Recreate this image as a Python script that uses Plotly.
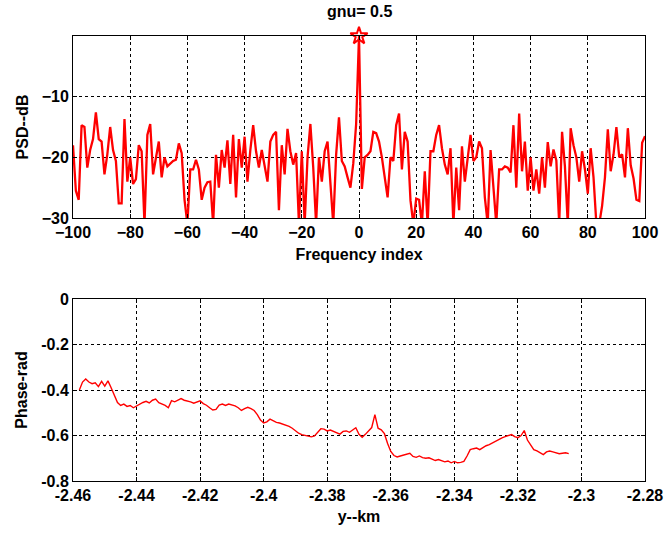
import numpy as np
import plotly.graph_objects as go
from plotly.subplots import make_subplots

# ---- Top panel: PSD (dB) vs frequency index ----
freq_index = list(range(-100, 101))
psd_db = [
    -18, -25.5, -27, -14.7, -15, -21.7, -18.8, -17, -12.6, -17,
    -17.4, -22.8, -19.5, -15, -18.8, -20.6, -27.6, -27.6, -13.7, -24,
    -20, -24.4, -23.6, -18, -19, -31, -16.3, -14.5, -22.8, -20,
    -17.4, -23.3, -20, -21.5, -21, -20.6, -20.4, -17.7, -19.3, -27,
    -31, -22, -22, -20.4, -22, -27, -25, -24.1, -24, -31,
    -19.6, -25, -18.8, -21.7, -17.2, -24.4, -16.3, -26.6, -17, -21.7,
    -16.6, -24, -18.8, -14.7, -19, -21.7, -18.8, -21.7, -24, -17.4,
    -16.3, -15.8, -28.7, -18, -22.8, -15.3, -19, -21.2, -19.3, -31,
    -19, -31, -20, -14.5, -21.7, -31, -20, -24, -19, -17.4,
    -23.3, -31, -19.6, -13.4, -20.6, -21.5, -23.3, -25, -21, -14.5,
    0,
    -25.2, -20, -19.6, -19, -15.8, -16, -17.4, -20, -23.3, -26.6,
    -20, -20.6, -14.7, -12.8, -22, -15.8, -17.4, -27.1, -31, -26.8,
    -27, -31, -22.3, -31, -19, -19, -16.3, -14.7, -18.5, -21.2,
    -22.8, -18.5, -31, -21.7, -28.7, -18.2, -24, -20, -16.3, -20.6,
    -20, -17.4, -18.5, -26.6, -31, -18.8, -24, -31, -22, -22,
    -21.5, -21.7, -22.5, -14.7, -25, -12.8, -22.3, -17.4, -25.5, -20,
    -25.5, -22, -26, -20, -25, -17.5, -21.5, -18.7, -20.5, -31,
    -15.8, -21.5, -31, -15.2, -18, -20, -24, -19, -22, -26,
    -18.5, -23.3, -31, -31, -28, -23.3, -15.4, -22.3, -19.5, -15,
    -20, -19.5, -23.3, -15.2, -21.3, -23.5, -27, -27.2, -17.6, -16.5,
]
peak_index = [0]
peak_db = [0]

# ---- Bottom panel: phase (rad) vs y (km) ----
phase_rad = [
    -0.40, -0.365, -0.352, -0.365, -0.372, -0.368, -0.385, -0.362, -0.383, -0.36,
    -0.39, -0.42, -0.455, -0.468, -0.462, -0.472, -0.468, -0.478, -0.47, -0.462,
    -0.455, -0.45, -0.457, -0.445, -0.44, -0.456, -0.462, -0.468, -0.478, -0.447,
    -0.452, -0.445, -0.438, -0.445, -0.448, -0.452, -0.458, -0.452, -0.448, -0.46,
    -0.467, -0.478, -0.488, -0.485, -0.466, -0.462, -0.468, -0.462, -0.466, -0.47,
    -0.478, -0.49, -0.482, -0.476, -0.482, -0.49, -0.508, -0.532, -0.545, -0.54,
    -0.528, -0.535, -0.542, -0.545, -0.55, -0.552, -0.56, -0.568, -0.578, -0.59,
    -0.596, -0.6, -0.604, -0.606, -0.602, -0.588, -0.57, -0.572, -0.58, -0.576,
    -0.582, -0.59, -0.594, -0.582, -0.58, -0.586, -0.575, -0.566, -0.595, -0.608,
    -0.595, -0.578, -0.565, -0.508, -0.568, -0.575, -0.592, -0.635, -0.67, -0.688,
    -0.694, -0.69, -0.686, -0.684, -0.678, -0.692, -0.696, -0.69, -0.697, -0.70,
    -0.698, -0.704, -0.71, -0.706, -0.712, -0.716, -0.712, -0.72, -0.714, -0.72,
    -0.718, -0.714, -0.69, -0.662, -0.658, -0.655, -0.662, -0.652, -0.645, -0.64,
    -0.632, -0.625, -0.615, -0.61, -0.605, -0.6, -0.596, -0.605, -0.61, -0.6,
    -0.578, -0.62, -0.642, -0.662, -0.668, -0.676, -0.684, -0.672, -0.668, -0.672,
    -0.676, -0.68, -0.678, -0.676, -0.68,
]
y_km_start, y_km_end = -2.458, -2.304
y_km = list(np.linspace(y_km_start, y_km_end, len(phase_rad)))

top_xticks = [-100, -80, -60, -40, -20, 0, 20, 40, 60, 80, 100]
top_yticks = [-30, -20, -10]
bot_xticks = [-2.46, -2.44, -2.42, -2.4, -2.38, -2.36, -2.34, -2.32, -2.3, -2.28]
bot_xlabels = ["-2.46", "-2.44", "-2.42", "-2.4", "-2.38", "-2.36", "-2.34", "-2.32", "-2.3", "-2.28"]
bot_yticks = [-0.8, -0.6, -0.4, -0.2, 0]
bot_ylabels = ["-0.8", "-0.6", "-0.4", "-0.2", "0"]

W, H = 664, 535
ML, MR, MT, MB = 73, 19, 36, 54
plot_h = H - MT - MB
top_bottom = (481 - 218) / plot_h
bot_top = (481 - 299) / plot_h

FAM = "Liberation Sans, Arial, sans-serif"
TICKFONT = dict(family=FAM, size=16, color="black", weight="bold")
TITLEFONT = dict(family=FAM, size=16, color="black", weight="bold")

fig = make_subplots(rows=2, cols=1)
fig.add_trace(go.Scatter(x=freq_index, y=psd_db, mode="lines",
                         line=dict(color="#ff0000", width=2.3), showlegend=False), row=1, col=1)
fig.add_trace(go.Scatter(x=peak_index, y=peak_db, mode="markers",
                         marker=dict(symbol="star-open", size=13, color="#ff0000",
                                     line=dict(width=2, color="#ff0000")),
                         cliponaxis=False, showlegend=False), row=1, col=1)
fig.add_trace(go.Scatter(x=y_km, y=phase_rad, mode="lines",
                         line=dict(color="#ff0000", width=1.4), showlegend=False), row=2, col=1)

axis_common = dict(showline=True, linecolor="black", linewidth=1, mirror="ticks",
                   ticks="inside", ticklen=4, tickcolor="black", automargin=False,
                   showgrid=True, gridcolor="black", gridwidth=1, griddash="3px,3px",
                   zeroline=False, tickfont=TICKFONT)

fig.update_xaxes(axis_common, row=1, col=1, range=[-100, 100], tickvals=top_xticks,
                 domain=[0, 1],
                 title=dict(text="Frequency index", font=TITLEFONT, standoff=8))
fig.update_yaxes(axis_common, row=1, col=1, range=[-30, 0], tickvals=top_yticks,
                 domain=[top_bottom, 1],
                 title=dict(text="PSD--dB", font=TITLEFONT, standoff=9))
fig.update_xaxes(axis_common, row=2, col=1, range=[-2.46, -2.28], tickvals=bot_xticks,
                 ticktext=bot_xlabels, domain=[0, 1],
                 title=dict(text="y--km", font=TITLEFONT, standoff=7))
fig.update_yaxes(axis_common, row=2, col=1, range=[-0.8, 0], tickvals=bot_yticks,
                 ticktext=bot_ylabels, domain=[0, bot_top],
                 title=dict(text="Phase-rad", font=TITLEFONT, standoff=9))

fig.add_annotation(text="gnu= 0.5", x=0, xref="x", y=1, yref="paper",
                   yshift=14, yanchor="bottom", showarrow=False,
                   font=dict(family=FAM, size=16, color="black", weight="bold"))

fig.update_layout(width=W, height=H, margin=dict(l=ML, r=MR, t=MT, b=MB),
                  paper_bgcolor="white", plot_bgcolor="white")

fig.write_html("out.html")
